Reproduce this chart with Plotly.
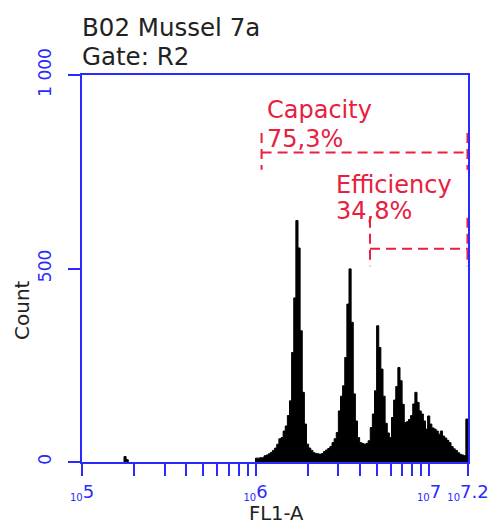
import plotly.graph_objects as go

# ---------------- data ----------------
X_MIN = 1e5
X_MAX = 16777216          # 2^24, 10^7.2
HIST_LOG_START = 6.0
HIST_LOG_WIDTH = 0.012248  # log10 width of one channel bin
COUNTS = [10, 10, 11, 11, 16, 18, 21, 25, 30, 36,
          46, 60, 63, 80, 93, 120, 158, 283, 424, 624,
          553, 339, 180, 98, 46, 36, 30, 24, 22, 21,
          20, 22, 27, 31, 35, 40, 50, 60, 76, 132,
          170, 197, 270, 408, 499, 361, 176, 106, 63, 50,
          48, 46, 48, 55, 89, 124, 184, 352, 296, 240,
          170, 100, 75, 63, 115, 160, 195, 244, 210, 149,
          102, 104, 110, 120, 150, 180, 154, 132, 124, 106,
          85, 119, 98, 88, 85, 80, 72, 80, 67, 62,
          56, 50, 40, 34, 30, 24, 20, 18, 16, 111]
BLIP_LOG_START = 5.242
BLIP_COUNTS = [14, 6]

Y_TICKS = [0, 500, 1000]
Y_TICK_TEXT = ["0", "500", "1 000"]
X_MAJOR = [1e5, 1e6, 1e7, X_MAX]
X_MAJOR_EXP = ["5", "6", "7", "7.2"]
X_MINOR = [2e5, 3e5, 4e5, 5e5, 6e5, 7e5, 8e5, 9e5,
           2e6, 3e6, 4e6, 5e6, 6e6, 7e6, 8e6, 9e6]

CAPACITY_X = 10 ** 6.035
CAPACITY_Y = 800
CAPACITY_LABEL = ["Capacity", "75,3%"]
EFFICIENCY_X = 10 ** 6.66
EFFICIENCY_Y = 551
EFFICIENCY_LABEL = ["Efficiency", "34,8%"]

TITLE_LINES = ["B02 Mussel 7a", "Gate: R2"]
X_TITLE = "FL1-A"
Y_TITLE = "Count"

# ---------------- style ----------------
BLUE = "#2a2aff"
RED = "#e8203e"
FONT = "DejaVu Sans"
W, H = 489, 524
L, R, T, B = 82, 21, 75, 62
PW, PH = W - L - R, H - T - B


def px2x(px):
    return (px - L) / PW


def py2y(py):
    return (H - B - py) / PH


def step_polygon(log_start, width, counts):
    """Closed outline of a channel histogram (bars of the given counts)."""
    x0 = 10 ** log_start
    xs, ys = [x0], [0]
    for i, c in enumerate(counts):
        left = 10 ** (log_start + i * width)
        right = 10 ** (log_start + (i + 1) * width)
        xs += [left, right]
        ys += [c, c]
    xs += [xs[-1], x0]
    ys += [0, 0]
    return go.Scatter(x=xs, y=ys, mode="lines",
                      line=dict(color="black", width=1, simplify=False),
                      fill="toself", fillcolor="black", hoverinfo="skip", showlegend=False)


fig = go.Figure()
fig.add_trace(step_polygon(HIST_LOG_START, HIST_LOG_WIDTH, COUNTS))
fig.add_trace(step_polygon(BLIP_LOG_START, HIST_LOG_WIDTH, BLIP_COUNTS))

dash = dict(color=RED, width=2, dash="10px,6px")


def gate(x0, y, up, down):
    fig.add_trace(go.Scatter(x=[x0, X_MAX], y=[y, y], mode="lines", line=dash,
                             hoverinfo="skip", showlegend=False))
    fig.add_trace(go.Scatter(x=[x0, x0], y=[y + up, y - down], mode="lines", line=dash,
                             hoverinfo="skip", showlegend=False))
    fig.add_trace(go.Scatter(x=[X_MAX * 0.993, X_MAX * 0.993], y=[y + up, y - down], mode="lines",
                             line=dash, hoverinfo="skip", showlegend=False))


gate(CAPACITY_X, CAPACITY_Y, 50, 45)
gate(EFFICIENCY_X, EFFICIENCY_Y, 80, 45)

tickvals = X_MAJOR + X_MINOR
ticktext = ["<sub><span style='font-size:10px'>10</span></sub>" + e for e in X_MAJOR_EXP] + [""] * len(X_MINOR)

fig.update_layout(
    width=W, height=H,
    margin=dict(l=L, r=R, t=T, b=B, pad=0),
    paper_bgcolor="white", plot_bgcolor="white",
    font=dict(family=FONT, color="#222"),
    showlegend=False,
    xaxis=dict(type="log", range=[5, 7.2248], showgrid=False, zeroline=False, automargin=False,
               showline=True, linecolor=BLUE, linewidth=2, mirror=True,
               ticks="outside", ticklen=12, tickwidth=2, tickcolor=BLUE,
               tickmode="array", tickvals=tickvals, ticktext=ticktext,
               tickfont=dict(family=FONT, size=18, color=BLUE), tickangle=0),
    yaxis=dict(range=[0, 1000], showgrid=False, zeroline=False, automargin=False,
               showline=True, linecolor=BLUE, linewidth=2, mirror=True,
               ticks="outside", ticklen=12, tickwidth=2, tickcolor=BLUE,
               tickmode="array", tickvals=Y_TICKS, ticktext=Y_TICK_TEXT,
               ticklabelstandoff=10,
               tickangle=-90, tickfont=dict(family=FONT, size=17, color=BLUE)),
)

ann = []
for text, py in zip(TITLE_LINES, [27, 57]):
    ann.append(dict(text=text, x=px2x(80), y=py2y(py), xanchor="left", yanchor="middle",
                    font=dict(family=FONT, size=24.5, color="#222")))
for text, px, py in [(CAPACITY_LABEL[0], 265, 110), (CAPACITY_LABEL[1], 265, 139),
                     (EFFICIENCY_LABEL[0], 334, 185), (EFFICIENCY_LABEL[1], 334, 211)]:
    ann.append(dict(text=text, x=px2x(px), y=py2y(py), xanchor="left", yanchor="middle",
                    font=dict(family=FONT, size=24, color=RED)))
ann.append(dict(text=X_TITLE, x=px2x(276), y=py2y(513.5), xanchor="center", yanchor="middle",
                borderpad=0, font=dict(family=FONT, size=19.5, color="#222")))
ann.append(dict(text=Y_TITLE, x=px2x(22), y=py2y(310), xanchor="center", yanchor="middle",
                textangle=-90, font=dict(family=FONT, size=20, color="#222")))
for a in ann:
    a.update(xref="paper", yref="paper", showarrow=False)
fig.update_layout(annotations=ann)

fig.write_html("out.html", config={"displayModeBar": False},
               post_script="document.body.style.margin='0';document.body.style.overflow='hidden';")
